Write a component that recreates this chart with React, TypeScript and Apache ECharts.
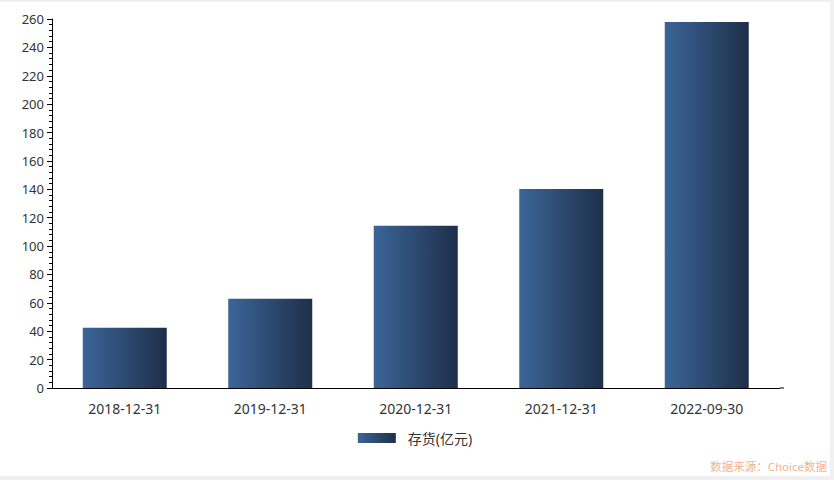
import React, { useEffect, useRef } from "react";
import * as echarts from "echarts";

const categories = ["2018-12-31", "2019-12-31", "2020-12-31", "2021-12-31", "2022-09-30"];
const inventory = [42.5, 62.8, 114.3, 140.3, 257.8];
const seriesName = "存货(亿元)";
const sourceText = "数据来源：Choice数据";

const FONT = "'Microsoft YaHei', 'Noto Sans', 'Noto Sans CJK SC', sans-serif";

export default function App() {
  const ref = useRef<HTMLDivElement>(null);
  useEffect(() => {
    if (!ref.current) return;
    const chart = echarts.init(ref.current, undefined, { renderer: "svg" });
    const grad = new echarts.graphic.LinearGradient(0, 0, 1, 0, [
      { offset: 0, color: "#3b6598" },
      { offset: 1, color: "#1e2f4a" },
    ]);
    const gridLeft = 52;
    const gridRight = 50.5;
    chart.setOption({
      animation: false,
      textStyle: { fontFamily: FONT },
      grid: { left: gridLeft, right: gridRight, top: 17, bottom: 88 },
      legend: {
        top: 424,
        left: "center",
        itemWidth: 38,
        itemHeight: 10,
        itemGap: 10,
        textStyle: { color: "#333", fontSize: 14, fontFamily: FONT, padding: [0, 0, 0, 7] },
        data: [{ name: seriesName, icon: "rect" }],
      },
      xAxis: {
        type: "category",
        data: categories,
        axisLine: { lineStyle: { color: "#000", width: 1 } },
        axisTick: { alignWithLabel: true, length: 5, lineStyle: { color: "#000" } },
        axisLabel: { color: "#333", fontSize: 14, margin: 13, fontFamily: FONT },
      },
      yAxis: {
        type: "value",
        min: 0,
        max: 260,
        interval: 20,
        axisLine: { show: true, lineStyle: { color: "#000", width: 1 } },
        axisTick: { show: true, length: 5, lineStyle: { color: "#000" } },
        minorTick: { show: true, splitNumber: 5, length: 3, lineStyle: { color: "#000" } },
        splitLine: { show: false },
        axisLabel: { color: "#333", fontSize: 13, margin: 8, fontFamily: FONT },
      },
      series: [
        {
          name: seriesName,
          type: "bar",
          data: inventory,
          barWidth: 84,
          itemStyle: { color: grad },
        },
      ],
      graphic: [
        {
          type: "text",
          right: 3,
          bottom: 4,
          style: { text: sourceText, fill: "#f6b38a", fontSize: 11.5, fontFamily: FONT },
        },
      ],
    });
    // extend the x axis line slightly past the last category, as in the reference
    const zeroY = chart.convertToPixel({ yAxisIndex: 0 }, 0) as number;
    const axisEnd = chart.getWidth() - gridRight;
    chart.setOption({
      graphic: [
        {
          type: "text",
          right: 3,
          bottom: 4,
          style: { text: sourceText, fill: "#f6b38a", fontSize: 11.5, fontFamily: FONT },
        },
        {
          type: "line",
          shape: { x1: axisEnd, y1: zeroY, x2: axisEnd + 4.5, y2: zeroY },
          style: { stroke: "#000", lineWidth: 1 },
        },
      ],
    });
    return () => chart.dispose();
  }, []);
  return (
    <div style={{ position: "fixed", left: 0, top: 0, width: 834, height: 480, background: "#f0f0f0" }}>
      <div
        ref={ref}
        style={{ position: "absolute", left: 0, top: 2, width: 830, height: 474, background: "#fff" }}
      />
    </div>
  );
}
